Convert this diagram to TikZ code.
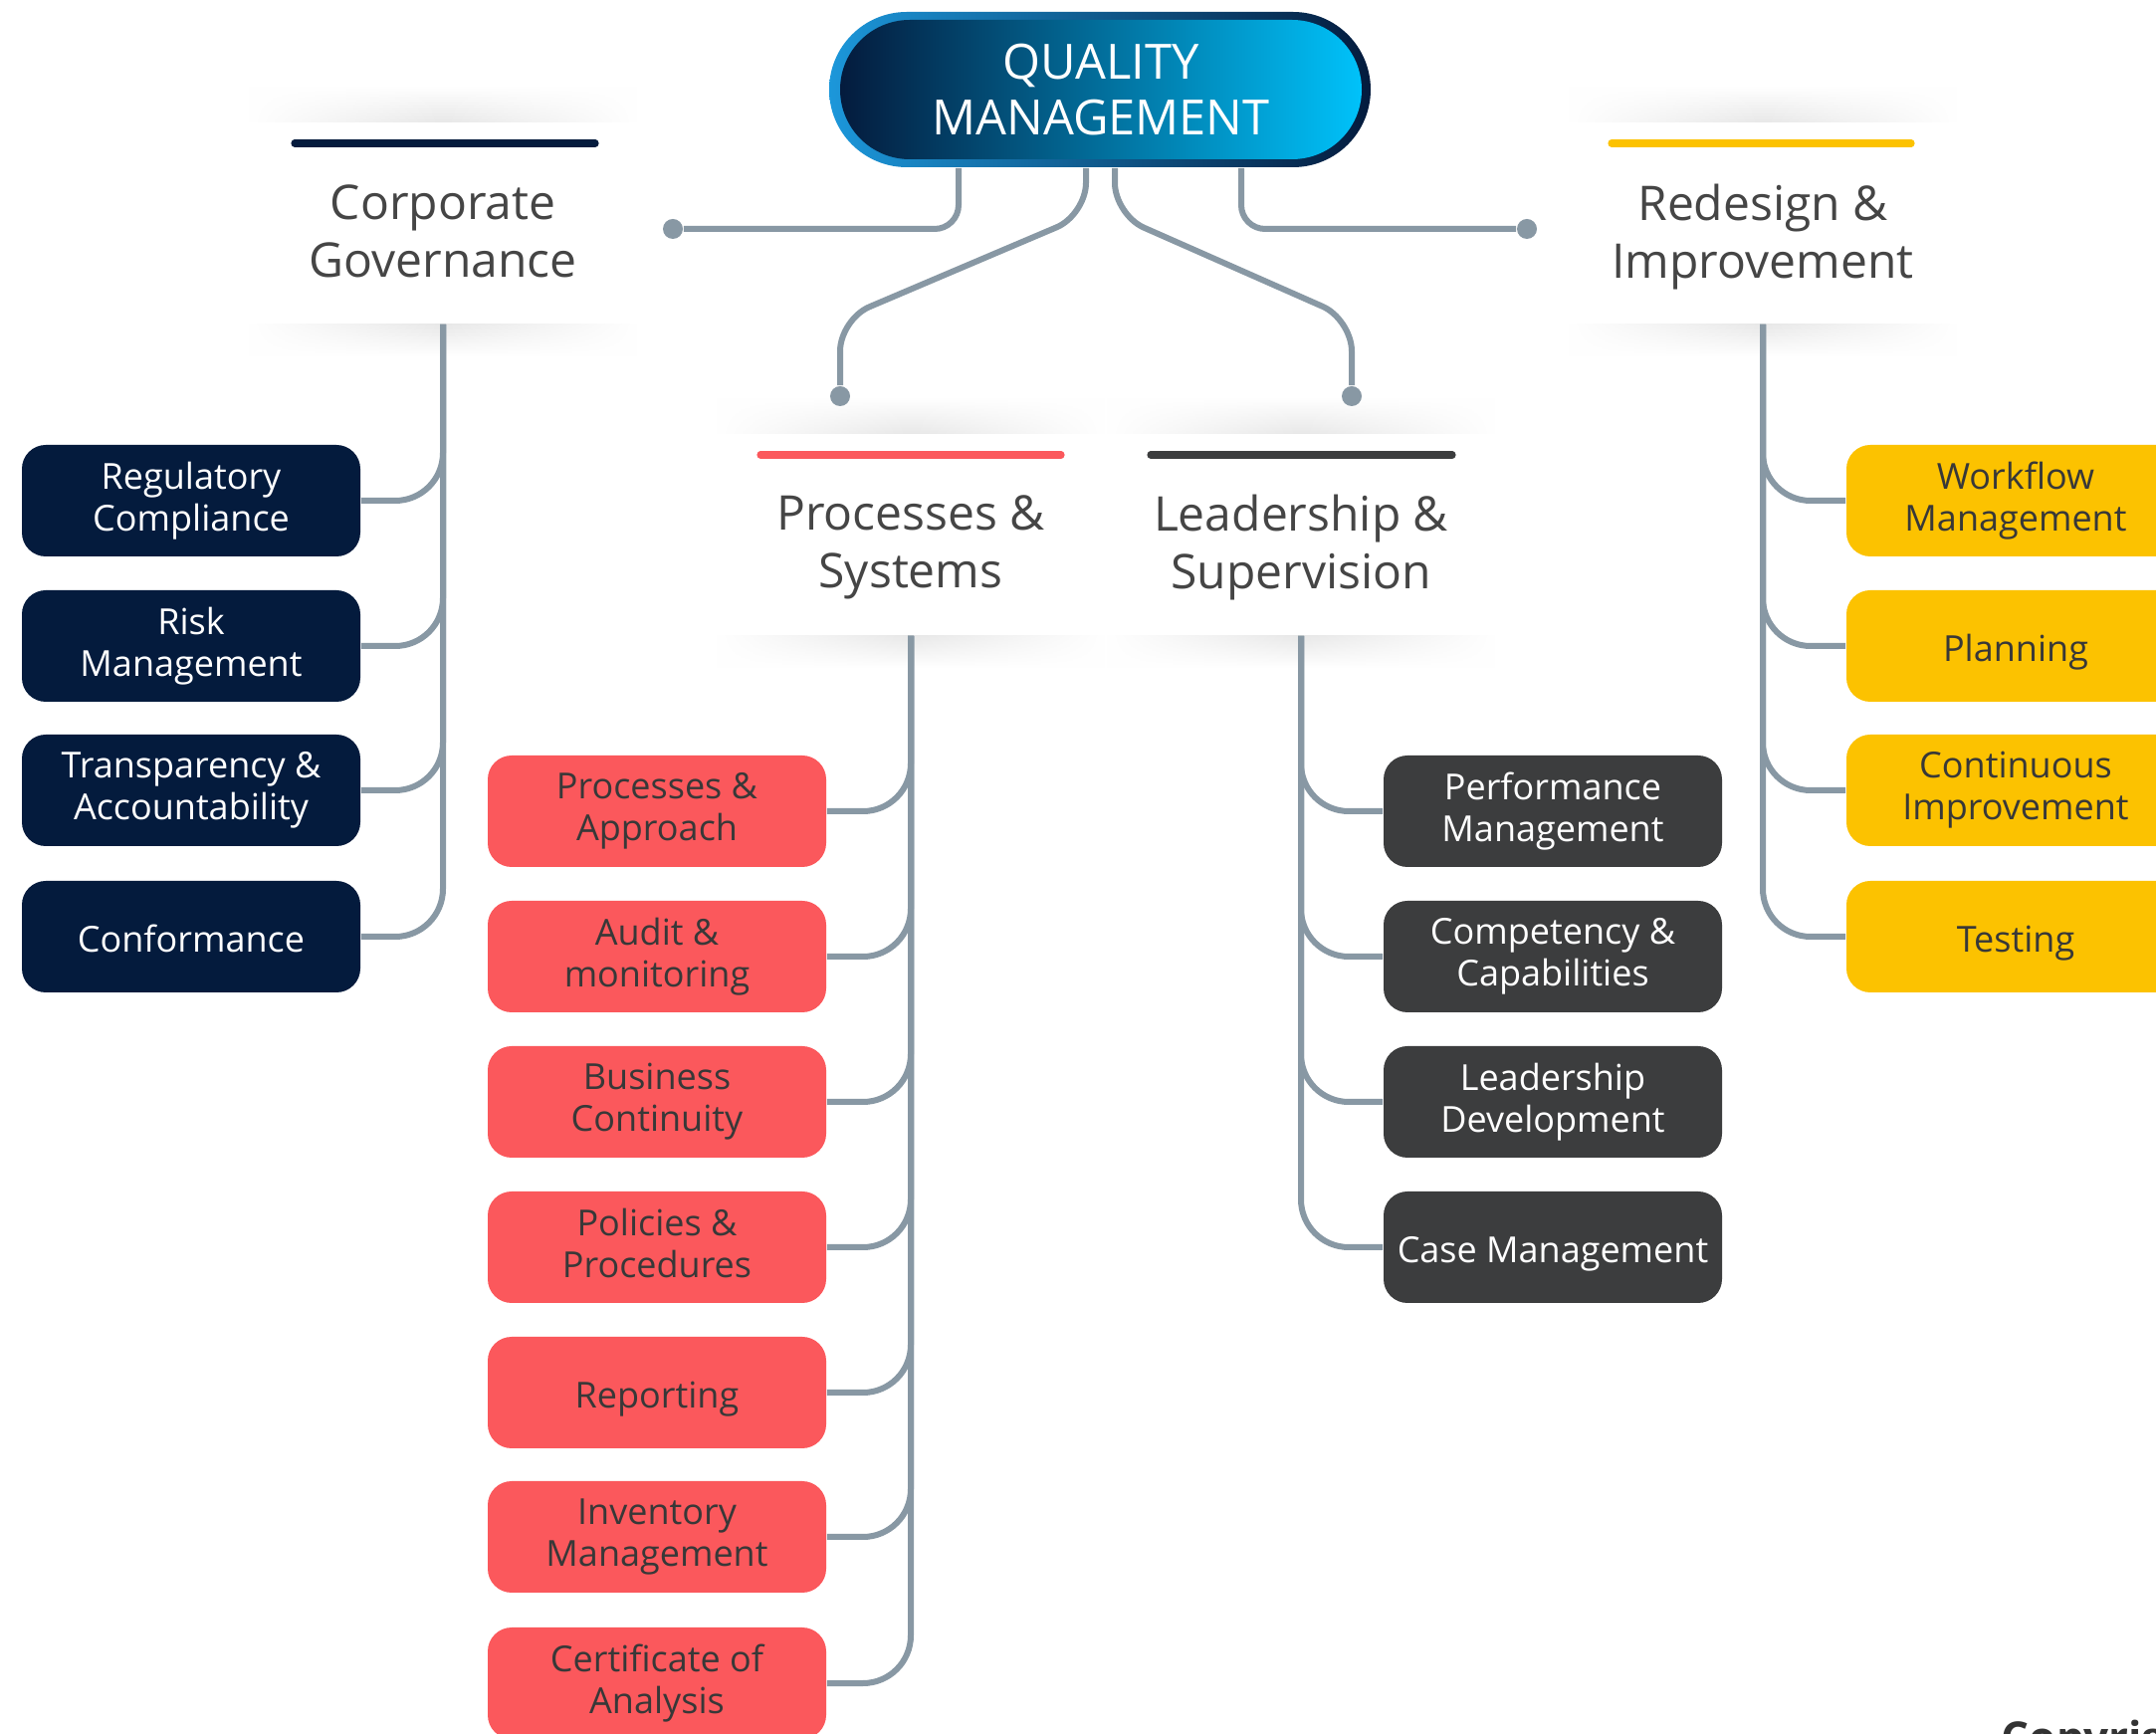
\documentclass[tikz,border=0pt]{standalone}
\usepackage{fontspec}
\setmainfont{Open Sans}
\usepackage{tikz}
\usetikzlibrary{fadings}
\definecolor{navy}{HTML}{041B3D}
\definecolor{coral}{HTML}{FB585C}
\definecolor{charcoal}{HTML}{3C3D3E}
\definecolor{amber}{HTML}{FCC200}
\definecolor{linegray}{HTML}{8898A4}
\definecolor{headgray}{HTML}{454545}
\definecolor{ringblue}{HTML}{1C97DA}
\definecolor{midblue}{HTML}{0A5A96}
\definecolor{skyblue}{HTML}{00C2FA}
\newcommand{\itemtop}{\rule{0pt}{9.8pt}}
\newcommand{\onetop}{\rule{0pt}{8.4pt}}
\newcommand{\itembot}{\rule[-2.1pt]{0pt}{2.1pt}}
\newcommand{\headstrut}{\rule[-3pt]{0pt}{14.5pt}}
\tikzfading[name=fade sides, left color=transparent!100, right color=transparent!100, middle color=transparent!0]
\tikzstyle{branch} = [draw=linegray, line width=1.5pt, rounded corners=12pt]
\tikzstyle{dot} = [circle, fill=linegray, inner sep=0pt, minimum size=5pt]
\tikzstyle{item} = [rectangle, rounded corners=6pt, minimum width=85pt, minimum height=28pt, inner sep=0pt, align=center, font=\fontsize{9}{10.5}\selectfont, execute at begin node=\itemtop, execute at end node=\itembot]
\tikzstyle{oneline} = [execute at begin node=\onetop]
\tikzstyle{navybox} = [item, fill=navy, text=white]
\tikzstyle{coralbox} = [item, fill=coral, text=black!78]
\tikzstyle{darkbox} = [item, fill=charcoal, text=white]
\tikzstyle{amberbox} = [item, fill=amber, text=black!78]
\tikzstyle{card} = [rectangle, fill=white, minimum width=97pt, minimum height=50.5pt, inner sep=0pt]
\tikzstyle{heading} = [align=center, text=headgray, inner sep=0pt, font=\fontsize{12}{14.5}\selectfont, execute at begin node=\headstrut, execute at end node=\headstrut]
\tikzstyle{bar} = [line width=1.8pt, line cap=round]
\tikzstyle{shadowup} = [top color=white, bottom color=black!9, path fading=fade sides]
\tikzstyle{shadowdown} = [top color=black!9, bottom color=white, path fading=fade sides]

\begin{document}
\begin{tikzpicture}[x=0.25pt, y=-0.25pt]
\useasboundingbox (0,0) rectangle (2166,1742);
\clip (0,0) rectangle (2166,1742);
\fill[white] (0,0) rectangle (2166,1742);

\node[card] (cgcard) at (445,224) {};
\node[card] (ricard) at (1771,224) {};
\node[card] (pscard) at (915,537) {};
\node[card] (lscard) at (1307,537) {};
\shade[shadowup] (cgcard.north west) rectangle ([yshift=9pt]cgcard.north east);
\shade[shadowdown] (cgcard.south west) rectangle ([yshift=-8pt]cgcard.south east);
\shade[shadowup] (ricard.north west) rectangle ([yshift=9pt]ricard.north east);
\shade[shadowdown] (ricard.south west) rectangle ([yshift=-8pt]ricard.south east);
\shade[shadowup] (pscard.north west) rectangle ([yshift=9pt]pscard.north east);
\shade[shadowdown] (pscard.south west) rectangle ([yshift=-8pt]pscard.south east);
\shade[shadowup] (lscard.north west) rectangle ([yshift=9pt]lscard.north east);
\shade[shadowdown] (lscard.south west) rectangle ([yshift=-8pt]lscard.south east);

\node[rectangle, rounded corners=19.5pt, minimum width=136pt, minimum height=39pt, left color=ringblue, right color=navy] (qmo) at (1105,90) {};
\node[rectangle, rounded corners=17.5pt, minimum width=131pt, minimum height=35pt, left color=navy, middle color=midblue, right color=skyblue, text=white, align=center, font=\fontsize{12.2}{14.2}\selectfont] (qm) at (1106,90) {QUALITY\\MANAGEMENT};

\node[dot] (cgdot) at (676,230) {};
\node[dot] (ridot) at (1534,230) {};
\node[dot] (psdot) at (844,398) {};
\node[dot] (lsdot) at (1358,398) {};
\draw[branch, rounded corners=6pt] ([xshift=-35.5pt]qmo.south) |- (cgdot);
\draw[branch, rounded corners=6pt] ([xshift=35.5pt]qmo.south) |- (ridot);
\draw[branch, rounded corners=8pt] ([xshift=-3.5pt]qmo.south) -- ++(0,47) -- ++(-247,105) -- (psdot);
\draw[branch, rounded corners=8pt] ([xshift=3.75pt]qmo.south) -- ++(0,47) -- ++(238,105) -- (lsdot);

\draw[bar, navy] (296,144) -- (598,144);
\draw[bar, amber] (1619,144) -- (1920,144);
\draw[bar, coral] (764,457) -- (1066,457);
\draw[bar, charcoal] (1156,457) -- (1459,457);
\node[heading] (cg) at (445,238) {Corporate\\Governance};
\node[heading] (ri) at (1771,238) {Redesign \&\\Improvement};
\node[heading] (ps) at (915,550) {Processes \&\\Systems};
\node[heading] (ls) at (1307,550) {Leadership \&\\Supervision};

\node[navybox] (rc) at (192,503) {Regulatory\\Compliance};
\node[navybox] (rm) at (192,649) {Risk\\Management};
\node[navybox] (ta) at (192,794) {Transparency \&\\Accountability};
\node[navybox, oneline] (cf) at (192,941) {Conformance};

\node[coralbox] (pa) at (660,815) {Processes \&\\Approach};
\node[coralbox] (am) at (660,961) {Audit \&\\monitoring};
\node[coralbox] (bc) at (660,1107) {Business\\Continuity};
\node[coralbox] (pp) at (660,1253) {Policies \&\\Procedures};
\node[coralbox, oneline] (rp) at (660,1399) {Reporting};
\node[coralbox] (im) at (660,1544) {Inventory\\Management};
\node[coralbox] (ca) at (660,1691) {Certificate of\\Analysis};

\node[darkbox] (pm) at (1560,815) {Performance\\Management};
\node[darkbox] (cc) at (1560,961) {Competency \&\\Capabilities};
\node[darkbox] (ld) at (1560,1107) {Leadership\\Development};
\node[darkbox, oneline] (cm) at (1560,1253) {Case Management};

\node[amberbox] (wm) at (2025,503) {Workflow\\Management};
\node[amberbox, oneline] (pl) at (2025,649) {Planning};
\node[amberbox] (ci) at (2025,794) {Continuous\\Improvement};
\node[amberbox, oneline] (ts) at (2025,941) {Testing};

\draw[branch] (rc.east) -| (cgcard.south);
\draw[branch] (rm.east) -| (cgcard.south);
\draw[branch] (ta.east) -| (cgcard.south);
\draw[branch] (cf.east) -| (cgcard.south);
\draw[branch] (pa.east) -| (pscard.south);
\draw[branch] (am.east) -| (pscard.south);
\draw[branch] (bc.east) -| (pscard.south);
\draw[branch] (pp.east) -| (pscard.south);
\draw[branch] (rp.east) -| (pscard.south);
\draw[branch] (im.east) -| (pscard.south);
\draw[branch] (ca.east) -| (pscard.south);
\draw[branch] (pm.west) -| (lscard.south);
\draw[branch] (cc.west) -| (lscard.south);
\draw[branch] (ld.west) -| (lscard.south);
\draw[branch] (cm.west) -| (lscard.south);
\draw[branch] (wm.west) -| (ricard.south);
\draw[branch] (pl.west) -| (ricard.south);
\draw[branch] (ci.west) -| (ricard.south);
\draw[branch] (ts.west) -| (ricard.south);

\node[anchor=north west, inner sep=0pt, text=black!80, font=\bfseries\fontsize{11}{13}\selectfont] (copy) at (2010,1727) {Copyright};
\end{tikzpicture}
\end{document}
